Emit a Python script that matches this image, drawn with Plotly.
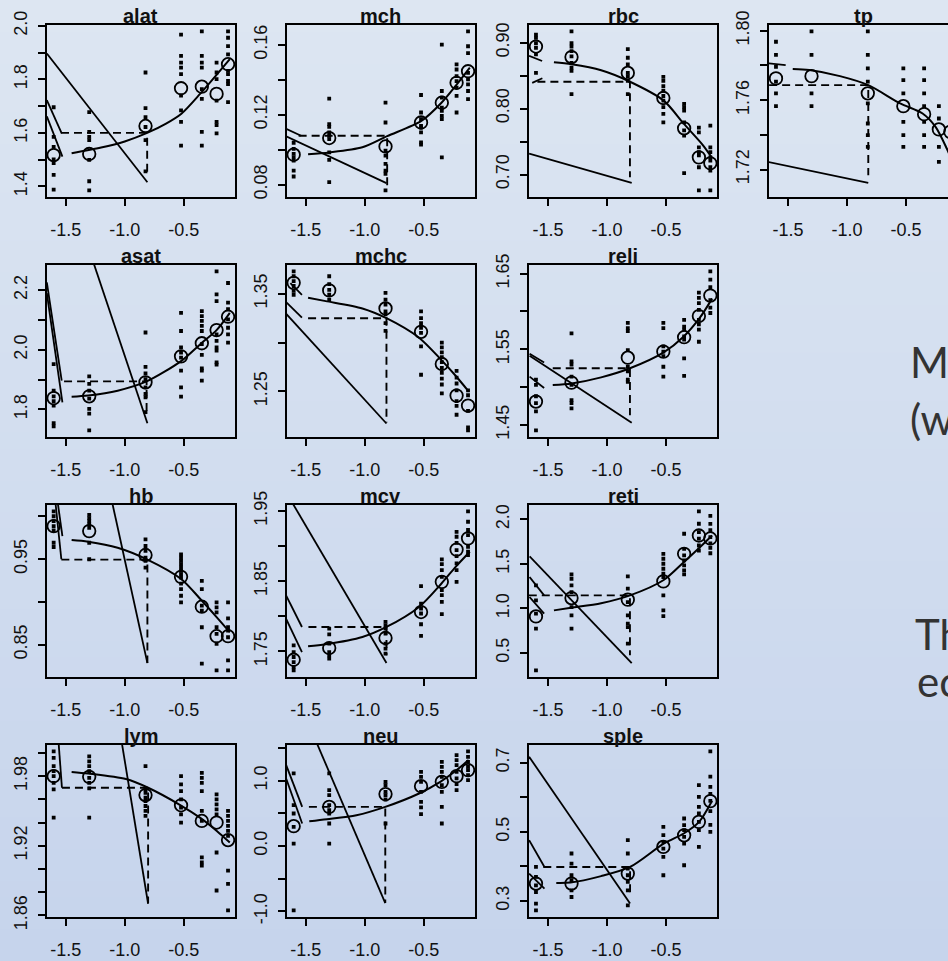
import plotly.graph_objects as go

FIG_W, FIG_H = 948, 961

# log10 dose groups shared by every endpoint
DOSE = [-1.602, -1.301, -0.824, -0.523, -0.347, -0.222, -0.125]
X_TICKS = [-1.5, -1.0, -0.5]
X_TICK_TEXT = ["-1.5", "-1.0", "-0.5"]

# ---------------- alat ----------------
ALAT_MEAN = [1.517, 1.521, 1.626, 1.767, 1.773, 1.746, 1.857]
ALAT_OBS = [
    [1.696, 1.585, 1.548, 1.501, 1.487, 1.443, 1.388],
    [1.678, 1.604, 1.585, 1.573, 1.499, 1.419, 1.385],
    [1.826, 1.693, 1.659, 1.622, 1.573, 1.456],
    [1.968, 1.888, 1.863, 1.844, 1.820, 1.740, 1.684, 1.641, 1.552],
    [1.980, 1.888, 1.863, 1.844, 1.764, 1.727, 1.604, 1.552],
    [1.863, 1.826, 1.801, 1.721, 1.641, 1.629, 1.598],
    [1.980, 1.956, 1.925, 1.894, 1.832, 1.820, 1.795, 1.783, 1.715],
]
ALAT_FIT_X = [-1.45, -1.2, -1.0, -0.81, -0.65, -0.52, -0.36, -0.21, -0.11]
ALAT_FIT_Y = [1.524, 1.545, 1.568, 1.600, 1.635, 1.672, 1.747, 1.824, 1.876]
ALAT_CED_X = [-1.54, -0.81, -0.81]
ALAT_CED_Y = [1.600, 1.600, 1.437]
ALAT_LINES = [[-1.66, 1.897, -0.808, 1.415], [-1.66, 1.723, -1.534, 1.598], [-1.66, 1.662, -1.528, 1.511]]
ALAT_YTICKS = [1.4, 1.5, 1.6, 1.7, 1.8, 1.9, 2.0]
ALAT_YTEXT = ["1.4", "", "1.6", "", "1.8", "", "2.0"]

# ---------------- mch ----------------
MCH_MEAN = [0.0972, 0.1067, 0.1019, 0.1156, 0.1269, 0.1383, 0.1449]
MCH_OBS = [
    [0.104, 0.1005, 0.0976, 0.0957, 0.0938, 0.0881, 0.0847],
    [0.1292, 0.1147, 0.1131, 0.1099, 0.1080, 0.1061, 0.0985, 0.0942, 0.0815],
    [0.1269, 0.1156, 0.0995, 0.0967, 0.0919, 0.0881, 0.0863, 0.0768],
    [0.1313, 0.1213, 0.1175, 0.1137, 0.1127, 0.1099, 0.1042, 0.1029],
    [0.1601, 0.1336, 0.1298, 0.1241, 0.1222, 0.1194, 0.1175, 0.0957],
    [0.1488, 0.1459, 0.1421, 0.1393, 0.1355, 0.1308, 0.1213],
    [0.1677, 0.1592, 0.1553, 0.1440, 0.1402, 0.1374, 0.1336, 0.1289],
]
MCH_FIT_X = [-1.48, -1.30, -1.02, -0.81, -0.52, -0.35, -0.22, -0.11]
MCH_FIT_Y = [0.0975, 0.0985, 0.1014, 0.1078, 0.1165, 0.1269, 0.1374, 0.1470]
MCH_CED_X = [-1.56, -0.81, -0.81]
MCH_CED_Y = [0.108, 0.108, 0.0796]
MCH_LINES = [[-1.674, 0.108, -0.816, 0.0809], [-1.674, 0.1122, -1.539, 0.108]]
MCH_YTICKS = [0.08, 0.10, 0.12, 0.14, 0.16]
MCH_YTEXT = ["0.08", "", "0.12", "", "0.16"]

# ---------------- rbc ----------------
RBC_MEAN = [0.894, 0.878, 0.854, 0.816, 0.770, 0.726, 0.717]
RBC_OBS = [
    [0.912, 0.907, 0.899, 0.892, 0.882, 0.854],
    [0.917, 0.899, 0.894, 0.887, 0.879, 0.869, 0.862, 0.857, 0.822],
    [0.890, 0.877, 0.867, 0.854, 0.849, 0.842, 0.822],
    [0.848, 0.842, 0.834, 0.827, 0.819, 0.812, 0.802, 0.792, 0.779],
    [0.807, 0.802, 0.797, 0.779, 0.767, 0.759, 0.702],
    [0.771, 0.764, 0.741, 0.734, 0.729, 0.711, 0.676],
    [0.774, 0.741, 0.734, 0.726, 0.721, 0.711, 0.706, 0.676],
]
RBC_FIT_X = [-1.45, -1.30, -1.05, -0.81, -0.52, -0.35, -0.19, -0.11]
RBC_FIT_Y = [0.870, 0.867, 0.858, 0.841, 0.812, 0.777, 0.745, 0.725]
RBC_CED_X = [-1.59, -0.806, -0.806]
RBC_CED_Y = [0.8406, 0.8406, 0.696]
RBC_LINES = [[-1.66, 0.7317, -0.791, 0.6874], [-1.66, 0.880, -1.55, 0.872], [-1.634, 0.839, -1.548, 0.846]]
RBC_YTICKS = [0.70, 0.75, 0.80, 0.85, 0.90]
RBC_YTEXT = ["0.70", "", "0.80", "", "0.90"]

# ---------------- tp ----------------
TP_MEAN = [1.7725, 1.7738, 1.7639, 1.7565, 1.7519, 1.7431, 1.7417]
TP_OBS = [
    [1.7936, 1.7860, 1.7792, 1.7706, 1.7639, 1.7565],
    [1.7996, 1.7860, 1.7639, 1.7565],
    [1.7996, 1.7860, 1.7783, 1.7706, 1.7581, 1.7465, 1.7398, 1.7330],
    [1.7783, 1.7715, 1.7639, 1.7475, 1.7398, 1.7330],
    [1.7783, 1.7715, 1.7639, 1.7565, 1.7475, 1.7398, 1.7330],
    [1.7565, 1.7494, 1.7330, 1.7244],
    [1.7583, 1.7475, 1.7398, 1.7080],
]
TP_FIT_X = [-1.46, -1.32, -1.06, -0.82, -0.55, -0.36, -0.25, -0.155, -0.11]
TP_FIT_Y = [1.7779, 1.7773, 1.7738, 1.7686, 1.7581, 1.7523, 1.7446, 1.7321, 1.7250]
TP_CED_X = [-1.66, -0.82, -0.82]
TP_CED_Y = [1.7686, 1.7686, 1.7167]
TP_LINES = [[-1.669, 1.7244, -0.82, 1.7123], [-1.669, 1.7812, -1.52, 1.7802]]
TP_YTICKS = [1.72, 1.74, 1.76, 1.78, 1.80]
TP_YTEXT = ["1.72", "", "1.76", "", "1.80"]

# ---------------- asat ----------------
ASAT_MEAN = [1.838, 1.844, 1.891, 1.978, 2.022, 2.066, 2.111]
ASAT_OBS = [
    [1.952, 1.863, 1.844, 1.828, 1.813, 1.754, 1.743],
    [1.911, 1.886, 1.863, 1.836, 1.802, 1.786, 1.730],
    [2.058, 1.943, 1.921, 1.902, 1.874, 1.852, 1.841, 1.791],
    [2.124, 2.063, 2.008, 1.991, 1.974, 1.930, 1.874, 1.843],
    [2.130, 2.113, 2.097, 2.080, 2.063, 2.019, 1.983, 1.938, 1.930, 1.897],
    [2.263, 2.186, 2.163, 2.052, 2.030, 2.008, 1.997, 1.958, 1.950],
    [2.224, 2.158, 2.136, 2.102, 2.074, 2.052, 2.024],
]
ASAT_FIT_X = [-1.45, -1.31, -1.06, -0.815, -0.52, -0.36, -0.22, -0.11]
ASAT_FIT_Y = [1.843, 1.847, 1.863, 1.894, 1.963, 2.019, 2.067, 2.124]
ASAT_CED_X = [-1.514, -0.815, -0.815]
ASAT_CED_Y = [1.894, 1.894, 1.780]
ASAT_LINES = [[-1.28, 2.31, -0.808, 1.754], [-1.66, 2.226, -1.534, 1.897], [-1.66, 2.19, -1.528, 1.824]]
ASAT_YTICKS = [1.8, 1.9, 2.0, 2.1, 2.2]
ASAT_YTEXT = ["1.8", "", "2.0", "", "2.2"]

# ---------------- mchc ----------------
MCHC_MEAN = [1.3612, 1.3535, 1.335, 1.311, 1.278, 1.2456, 1.2354]
MCHC_OBS = [
    [1.373, 1.368, 1.363, 1.358, 1.353, 1.349],
    [1.368, 1.360, 1.354, 1.349, 1.344],
    [1.351, 1.344, 1.339, 1.332, 1.329, 1.320, 1.312],
    [1.332, 1.325, 1.320, 1.315, 1.310, 1.296, 1.267],
    [1.300, 1.295, 1.290, 1.285, 1.280, 1.274, 1.269, 1.263, 1.257, 1.248],
    [1.271, 1.264, 1.258, 1.251, 1.240, 1.235, 1.226],
    [1.251, 1.246, 1.230, 1.213, 1.210],
]
MCHC_FIT_X = [-1.48, -1.33, -1.02, -0.816, -0.54, -0.35, -0.23, -0.12]
MCHC_FIT_Y = [1.346, 1.3425, 1.335, 1.325, 1.305, 1.282, 1.266, 1.250]
MCHC_CED_X = [-1.48, -0.816, -0.816]
MCHC_CED_Y = [1.325, 1.325, 1.218]
MCHC_LINES = [[-1.674, 1.3306, -0.816, 1.217], [-1.674, 1.3425, -1.532, 1.3255], [-1.63, 1.361, -1.532, 1.349]]
MCHC_YTICKS = [1.25, 1.30, 1.35]
MCHC_YTEXT = ["1.25", "", "1.35"]

# ---------------- reli ----------------
RELI_MEAN = [1.481, 1.506, 1.539, 1.547, 1.566, 1.594, 1.621]
RELI_OBS = [
    [1.510, 1.503, 1.488, 1.479, 1.468, 1.443],
    [1.571, 1.534, 1.530, 1.514, 1.503, 1.483, 1.479, 1.472],
    [1.585, 1.578, 1.574, 1.549, 1.527, 1.521, 1.510, 1.507],
    [1.585, 1.578, 1.554, 1.547, 1.541, 1.527, 1.514],
    [1.589, 1.580, 1.576, 1.567, 1.563, 1.538, 1.515],
    [1.625, 1.618, 1.611, 1.602, 1.589, 1.583, 1.576, 1.560],
    [1.653, 1.642, 1.632, 1.615, 1.605, 1.598],
]
RELI_FIT_X = [-1.46, -1.30, -1.05, -0.806, -0.52, -0.35, -0.215, -0.11]
RELI_FIT_Y = [1.503, 1.505, 1.513, 1.525, 1.546, 1.567, 1.5915, 1.617]
RELI_CED_X = [-1.46, -0.806, -0.806]
RELI_CED_Y = [1.525, 1.525, 1.463]
RELI_LINES = [[-1.656, 1.5415, -0.791, 1.453], [-1.656, 1.5442, -1.533, 1.5326], [-1.656, 1.514, -1.533, 1.499]]
RELI_YTICKS = [1.45, 1.50, 1.55, 1.60, 1.65]
RELI_YTEXT = ["1.45", "", "1.55", "", "1.65"]

# ---------------- hb ----------------
HB_MEAN = [0.9887, 0.9829, 0.955, 0.9294, 0.8945, 0.860, 0.860]
HB_OBS = [
    [1.006, 1.0003, 0.9945, 0.9887, 0.9837, 0.9693, 0.9643],
    [1.002, 0.998, 0.9945, 0.9907, 0.9867, 0.9693, 0.950],
    [0.9733, 0.9655, 0.9597, 0.9519, 0.948, 0.9402],
    [0.9558, 0.9519, 0.948, 0.9442, 0.9402, 0.9364, 0.9325, 0.9286, 0.9216, 0.9151, 0.9073, 0.8995],
    [0.9248, 0.9151, 0.8957, 0.8899, 0.8705, 0.8279],
    [0.8995, 0.8937, 0.8879, 0.8705, 0.8628, 0.8512, 0.8201],
    [0.8995, 0.8809, 0.8705, 0.8666, 0.8588, 0.8317, 0.8201],
]
HB_FIT_X = [-1.45, -1.31, -1.06, -0.808, -0.52, -0.36, -0.22, -0.11]
HB_FIT_Y = [0.9724, 0.9705, 0.9635, 0.9496, 0.9267, 0.9035, 0.8821, 0.8647]
HB_CED_X = [-1.537, -0.808, -0.808]
HB_CED_Y = [0.9496, 0.9496, 0.8286]
HB_LINES = [[-1.102, 1.0136, -0.808, 0.8286], [-1.585, 1.0136, -1.537, 0.950], [-1.565, 1.0136, -1.528, 0.977]]
HB_YTICKS = [0.85, 0.90, 0.95, 1.00]
HB_YTEXT = ["0.85", "", "0.95", ""]

# ---------------- mcv ----------------
MCV_MEAN = [1.738, 1.7547, 1.769, 1.806, 1.849, 1.895, 1.911]
MCV_OBS = [
    [1.7586, 1.749, 1.7419, 1.7347, 1.7276, 1.7229],
    [1.7824, 1.7743, 1.761, 1.749, 1.7443, 1.7396],
    [1.7919, 1.7871, 1.7824, 1.7753, 1.761, 1.7539, 1.7467],
    [1.8429, 1.8181, 1.811, 1.8039, 1.7886, 1.7719],
    [1.881, 1.8743, 1.8657, 1.8561, 1.8371, 1.830, 1.8204, 1.8029],
    [1.9204, 1.9133, 1.9047, 1.8943, 1.8857, 1.8753, 1.8657, 1.849],
    [1.9495, 1.9347, 1.9229, 1.9157, 1.899, 1.8919, 1.8871],
]
MCV_FIT_X = [-1.48, -1.33, -1.02, -0.816, -0.54, -0.35, -0.23, -0.11]
MCV_FIT_Y = [1.7571, 1.760, 1.7704, 1.7847, 1.8133, 1.8467, 1.8704, 1.8919]
MCV_CED_X = [-1.477, -0.816, -0.816]
MCV_CED_Y = [1.7847, 1.7847, 1.7443]
MCV_LINES = [[-1.611, 1.961, -0.816, 1.7333], [-1.674, 1.8324, -1.532, 1.7847], [-1.674, 1.799, -1.532, 1.749]]
MCV_YTICKS = [1.75, 1.80, 1.85, 1.90, 1.95]
MCV_YTEXT = ["1.75", "", "1.85", "", "1.95"]

# ---------------- reti ----------------
RETI_MEAN = [0.911, 1.117, 1.099, 1.304, 1.614, 1.819, 1.786]
RETI_OBS = [
    [1.259, 1.091, 0.942, 0.774, 0.306],
    [1.382, 1.334, 1.259, 1.184, 1.016, 0.923, 0.774],
    [1.360, 1.222, 1.072, 0.923, 0.830, 0.791, 0.605],
    [1.614, 1.558, 1.502, 1.446, 1.390, 1.352, 1.147, 0.979, 0.915],
    [1.839, 1.670, 1.595, 1.539, 1.483, 1.427, 1.382],
    [2.090, 1.951, 1.857, 1.783, 1.707, 1.651],
    [2.040, 1.950, 1.880, 1.800, 1.730, 1.680, 1.620],
]
RETI_FIT_X = [-1.45, -1.305, -1.05, -0.806, -0.52, -0.35, -0.2, -0.11]
RETI_FIT_Y = [0.979, 1.009, 1.060, 1.147, 1.320, 1.520, 1.705, 1.820]
RETI_CED_X = [-1.663, -0.806, -0.806]
RETI_CED_Y = [1.147, 1.147, 0.474]
RETI_LINES = [[-1.656, 1.584, -0.791, 0.388], [-1.656, 1.352, -1.533, 1.147], [-1.656, 1.128, -1.533, 0.942]]
RETI_YTICKS = [0.5, 1.0, 1.5, 2.0]
RETI_YTEXT = ["0.5", "1.0", "1.5", "2.0"]

# ---------------- lym ----------------
LYM_MEAN = [1.980, 1.9794, 1.9637, 1.9549, 1.9414, 1.9400, 1.9249]
LYM_OBS = [
    [2.0014, 1.9957, 1.9886, 1.9843, 1.980, 1.9743, 1.9686, 1.9442],
    [1.9971, 1.9928, 1.9886, 1.9843, 1.9785, 1.9743, 1.9694, 1.9442],
    [1.9886, 1.9686, 1.9657, 1.9614, 1.9586, 1.9543, 1.950, 1.9457],
    [1.980, 1.9729, 1.9671, 1.960, 1.9528, 1.9471, 1.940],
    [1.9828, 1.9785, 1.9743, 1.9671, 1.950, 1.9414, 1.910, 1.9057, 1.9028],
    [1.9643, 1.960, 1.9557, 1.9514, 1.9471, 1.9142, 1.8814],
    [1.950, 1.9457, 1.9414, 1.9371, 1.9328, 1.9285, 1.8986, 1.8872, 1.8643],
]
LYM_FIT_X = [-1.45, -1.31, -0.99, -0.802, -0.53, -0.36, -0.22, -0.11]
LYM_FIT_Y = [1.9837, 1.9823, 1.9775, 1.970, 1.9551, 1.944, 1.9328, 1.9228]
LYM_CED_X = [-1.532, -0.802, -0.802]
LYM_CED_Y = [1.970, 1.970, 1.8705]
LYM_LINES = [[-1.022, 2.0071, -0.802, 1.870], [-1.559, 2.007, -1.532, 1.970]]
LYM_YTICKS = [1.86, 1.88, 1.90, 1.92, 1.94, 1.96, 1.98, 2.00]
LYM_YTEXT = ["1.86", "", "", "1.92", "", "", "1.98", ""]

# ---------------- neu ----------------
NEU_MEAN = [0.304, 0.600, 0.795, 0.917, 0.983, 1.071, 1.163]
NEU_OBS = [
    [1.112, 0.626, 0.498, 0.293, 0.038, -0.985],
    [1.112, 0.856, 0.779, 0.626, 0.549, 0.498, 0.345, 0.038],
    [0.983, 0.933, 0.830, 0.779, 0.713, 0.345],
    [1.137, 1.060, 0.983, 0.830, 0.677, 0.591, 0.488],
    [1.290, 1.213, 1.137, 1.060, 0.933, 0.830, 0.600, 0.345],
    [1.393, 1.316, 1.239, 1.137, 1.035, 0.948, 0.856],
    [1.450, 1.367, 1.290, 1.213, 1.163, 1.086, 1.009],
]
NEU_FIT_X = [-1.47, -1.32, -1.07, -0.826, -0.54, -0.36, -0.24, -0.12]
NEU_FIT_Y = [0.380, 0.411, 0.472, 0.600, 0.805, 0.983, 1.137, 1.316]
NEU_CED_X = [-1.473, -0.826, -0.826]
NEU_CED_Y = [0.600, 0.600, -0.873]
NEU_LINES = [[-1.405, 1.572, -0.826, -0.873], [-1.671, 1.265, -1.53, 0.600], [-1.671, 1.060, -1.53, 0.345]]
NEU_YTICKS = [-1.0, -0.5, 0.0, 0.5, 1.0, 1.5]
NEU_YTEXT = ["-1.0", "", "0.0", "", "1.0", ""]

# ---------------- sple ----------------
SPLE_MEAN = [0.3504, 0.3504, 0.3794, 0.4565, 0.490, 0.529, 0.589]
SPLE_OBS = [
    [0.3985, 0.3696, 0.3455, 0.3261, 0.2925, 0.273],
    [0.4374, 0.4084, 0.3745, 0.360, 0.331, 0.3116],
    [0.4759, 0.4374, 0.3939, 0.3745, 0.3551, 0.331, 0.2875],
    [0.5145, 0.4904, 0.471, 0.4517, 0.4275, 0.3745],
    [0.5388, 0.5194, 0.5049, 0.4855, 0.4664, 0.4035],
    [0.6354, 0.6014, 0.5725, 0.5533, 0.529, 0.5049, 0.4565],
    [0.733, 0.660, 0.630, 0.610, 0.590, 0.560, 0.520, 0.500],
]
SPLE_FIT_X = [-1.43, -1.31, -1.05, -0.805, -0.52, -0.35, -0.22, -0.11]
SPLE_FIT_Y = [0.3522, 0.3533, 0.372, 0.3985, 0.466, 0.4954, 0.529, 0.590]
SPLE_CED_X = [-1.54, -0.805, -0.805]
SPLE_CED_Y = [0.3985, 0.3985, 0.3165]
SPLE_LINES = [[-1.66, 0.7174, -0.805, 0.2925], [-1.66, 0.476, -1.53, 0.3985], [-1.66, 0.3794, -1.53, 0.336]]
SPLE_YTICKS = [0.3, 0.4, 0.5, 0.6, 0.7]
SPLE_YTEXT = ["0.3", "", "0.5", "", "0.7"]

# side text of the slide (only the part inside the page)
SIDE_TEXT = ["M", "(w", "Th", "ec"]

PANELS = [
    ("alat", 0, 0, ALAT_MEAN, ALAT_OBS, ALAT_FIT_X, ALAT_FIT_Y, ALAT_CED_X, ALAT_CED_Y, ALAT_LINES, ALAT_YTICKS, ALAT_YTEXT),
    ("mch", 0, 1, MCH_MEAN, MCH_OBS, MCH_FIT_X, MCH_FIT_Y, MCH_CED_X, MCH_CED_Y, MCH_LINES, MCH_YTICKS, MCH_YTEXT),
    ("rbc", 0, 2, RBC_MEAN, RBC_OBS, RBC_FIT_X, RBC_FIT_Y, RBC_CED_X, RBC_CED_Y, RBC_LINES, RBC_YTICKS, RBC_YTEXT),
    ("tp", 0, 3, TP_MEAN, TP_OBS, TP_FIT_X, TP_FIT_Y, TP_CED_X, TP_CED_Y, TP_LINES, TP_YTICKS, TP_YTEXT),
    ("asat", 1, 0, ASAT_MEAN, ASAT_OBS, ASAT_FIT_X, ASAT_FIT_Y, ASAT_CED_X, ASAT_CED_Y, ASAT_LINES, ASAT_YTICKS, ASAT_YTEXT),
    ("mchc", 1, 1, MCHC_MEAN, MCHC_OBS, MCHC_FIT_X, MCHC_FIT_Y, MCHC_CED_X, MCHC_CED_Y, MCHC_LINES, MCHC_YTICKS, MCHC_YTEXT),
    ("reli", 1, 2, RELI_MEAN, RELI_OBS, RELI_FIT_X, RELI_FIT_Y, RELI_CED_X, RELI_CED_Y, RELI_LINES, RELI_YTICKS, RELI_YTEXT),
    ("hb", 2, 0, HB_MEAN, HB_OBS, HB_FIT_X, HB_FIT_Y, HB_CED_X, HB_CED_Y, HB_LINES, HB_YTICKS, HB_YTEXT),
    ("mcv", 2, 1, MCV_MEAN, MCV_OBS, MCV_FIT_X, MCV_FIT_Y, MCV_CED_X, MCV_CED_Y, MCV_LINES, MCV_YTICKS, MCV_YTEXT),
    ("reti", 2, 2, RETI_MEAN, RETI_OBS, RETI_FIT_X, RETI_FIT_Y, RETI_CED_X, RETI_CED_Y, RETI_LINES, RETI_YTICKS, RETI_YTEXT),
    ("lym", 3, 0, LYM_MEAN, LYM_OBS, LYM_FIT_X, LYM_FIT_Y, LYM_CED_X, LYM_CED_Y, LYM_LINES, LYM_YTICKS, LYM_YTEXT),
    ("neu", 3, 1, NEU_MEAN, NEU_OBS, NEU_FIT_X, NEU_FIT_Y, NEU_CED_X, NEU_CED_Y, NEU_LINES, NEU_YTICKS, NEU_YTEXT),
    ("sple", 3, 2, SPLE_MEAN, SPLE_OBS, SPLE_FIT_X, SPLE_FIT_Y, SPLE_CED_X, SPLE_CED_Y, SPLE_LINES, SPLE_YTICKS, SPLE_YTEXT),
]

# panel frame geometry in pixels
COL_LEFT = [46.7, 286.7, 529.0, 769.0]
ROW_TOP = [25.0, 265.0, 505.0, 745.0]
BOX_W, BOX_H = 188.3, 171.7

TICK_FONT = dict(family="Liberation Sans, Arial, sans-serif", size=18, color="#111111")
TITLE_FONT = dict(family="Liberation Sans, Arial, sans-serif", size=20, color="#111111")
INK = "#000000"


def padded(lo, hi, frac=0.04):
    span = hi - lo
    return [lo - frac * span, hi + frac * span]


fig = go.Figure()
x_full = padded(min(DOSE), max(DOSE))
annotations = []

for idx, (name, row, col, mean, obs, fx, fy, cx, cy, segs, yt, ytxt) in enumerate(PANELS, start=1):
    xa = "x" if idx == 1 else f"x{idx}"
    ya = "y" if idx == 1 else f"y{idx}"

    # individual animals
    ox, oy = [], []
    for d, vals in zip(DOSE, obs):
        ox += [d] * len(vals)
        oy += vals
    fig.add_trace(go.Scatter(x=ox, y=oy, mode="markers", xaxis=xa, yaxis=ya,
                             marker=dict(symbol="square", size=3.8, color=INK, line=dict(width=0)),
                             hoverinfo="skip"))

    # straight reference lines
    lx, ly = [], []
    for x0, y0, x1, y1 in segs:
        lx += [x0, x1, None]
        ly += [y0, y1, None]
    fig.add_trace(go.Scatter(x=lx, y=ly, mode="lines", xaxis=xa, yaxis=ya,
                             line=dict(color=INK, width=1.8), hoverinfo="skip"))

    # critical effect size / dose (dashed)
    fig.add_trace(go.Scatter(x=cx, y=cy, mode="lines", xaxis=xa, yaxis=ya,
                             line=dict(color=INK, width=1.9, dash="8px,5px"), hoverinfo="skip"))

    # fitted dose-response curve
    fig.add_trace(go.Scatter(x=fx, y=fy, mode="lines", xaxis=xa, yaxis=ya,
                             line=dict(color=INK, width=2.0, shape="spline", smoothing=0.8),
                             hoverinfo="skip"))

    # group means
    fig.add_trace(go.Scatter(x=DOSE, y=mean, mode="markers", xaxis=xa, yaxis=ya,
                             marker=dict(symbol="circle-open", size=12.5, color=INK, line=dict(width=1.8)),
                             hoverinfo="skip"))

    left = COL_LEFT[col]
    top = ROW_TOP[row]
    right = left + BOX_W
    xr = list(x_full)
    clipped = right > FIG_W
    if clipped:
        xr[1] = xr[0] + (FIG_W - left) / BOX_W * (x_full[1] - x_full[0])
        right = FIG_W

    flat = [v for vals in obs for v in vals]
    yr = padded(min(flat), max(flat))

    axis_common = dict(showgrid=False, zeroline=False, showline=True, linecolor=INK, linewidth=2,
                       ticks="outside", ticklen=7, tickwidth=2, tickcolor=INK, tickfont=TICK_FONT,
                       automargin=False)
    fig.layout[("xaxis" if idx == 1 else f"xaxis{idx}")] = dict(
        axis_common, domain=[left / FIG_W, right / FIG_W], range=xr, anchor=ya,
        tickmode="array", tickvals=X_TICKS, ticktext=X_TICK_TEXT, mirror=True,
        ticklabelstandoff=9)
    fig.layout[("yaxis" if idx == 1 else f"yaxis{idx}")] = dict(
        axis_common, domain=[1 - (top + BOX_H) / FIG_H, 1 - top / FIG_H], range=yr, anchor=xa,
        tickmode="array", tickvals=yt, ticktext=ytxt, tickangle=-90, mirror=not clipped,
        ticklabelstandoff=4)

    annotations.append(dict(text=f"<b>{name}</b>", xref="paper", yref="paper",
                            x=(left + BOX_W / 2) / FIG_W, y=1 - (top - 9) / FIG_H,
                            xanchor="center", yanchor="middle", showarrow=False, font=TITLE_FONT))

# slide text on the right
SIDE_POS = [(908, 362), (908, 419), (913, 634), (915, 681)]
for txt, (px, py) in zip(SIDE_TEXT, SIDE_POS):
    annotations.append(dict(text=txt, xref="paper", yref="paper", x=px / FIG_W, y=1 - py / FIG_H,
                            xanchor="left", yanchor="middle", showarrow=False,
                            font=dict(family="Lato, Open Sans, sans-serif", size=42, color="#333333")))

# vertical slide-background gradient
TOP_RGB = (221, 230, 242)
BOT_RGB = (198, 212, 236)
bands = 60
shapes = []
for i in range(bands):
    t = i / (bands - 1)
    c = tuple(round(a + (b - a) * t) for a, b in zip(TOP_RGB, BOT_RGB))
    shapes.append(dict(type="rect", xref="paper", yref="paper", x0=0, x1=1,
                       y0=1 - (i + 1) / bands - 0.002, y1=1 - i / bands,
                       fillcolor=f"rgb{c}", line=dict(width=0), layer="below"))

fig.update_layout(width=FIG_W, height=FIG_H, margin=dict(l=0, r=0, t=0, b=0),
                  paper_bgcolor=f"rgb{TOP_RGB}", plot_bgcolor="rgba(0,0,0,0)",
                  showlegend=False, annotations=annotations, shapes=shapes)

fig.write_html("out.html")
